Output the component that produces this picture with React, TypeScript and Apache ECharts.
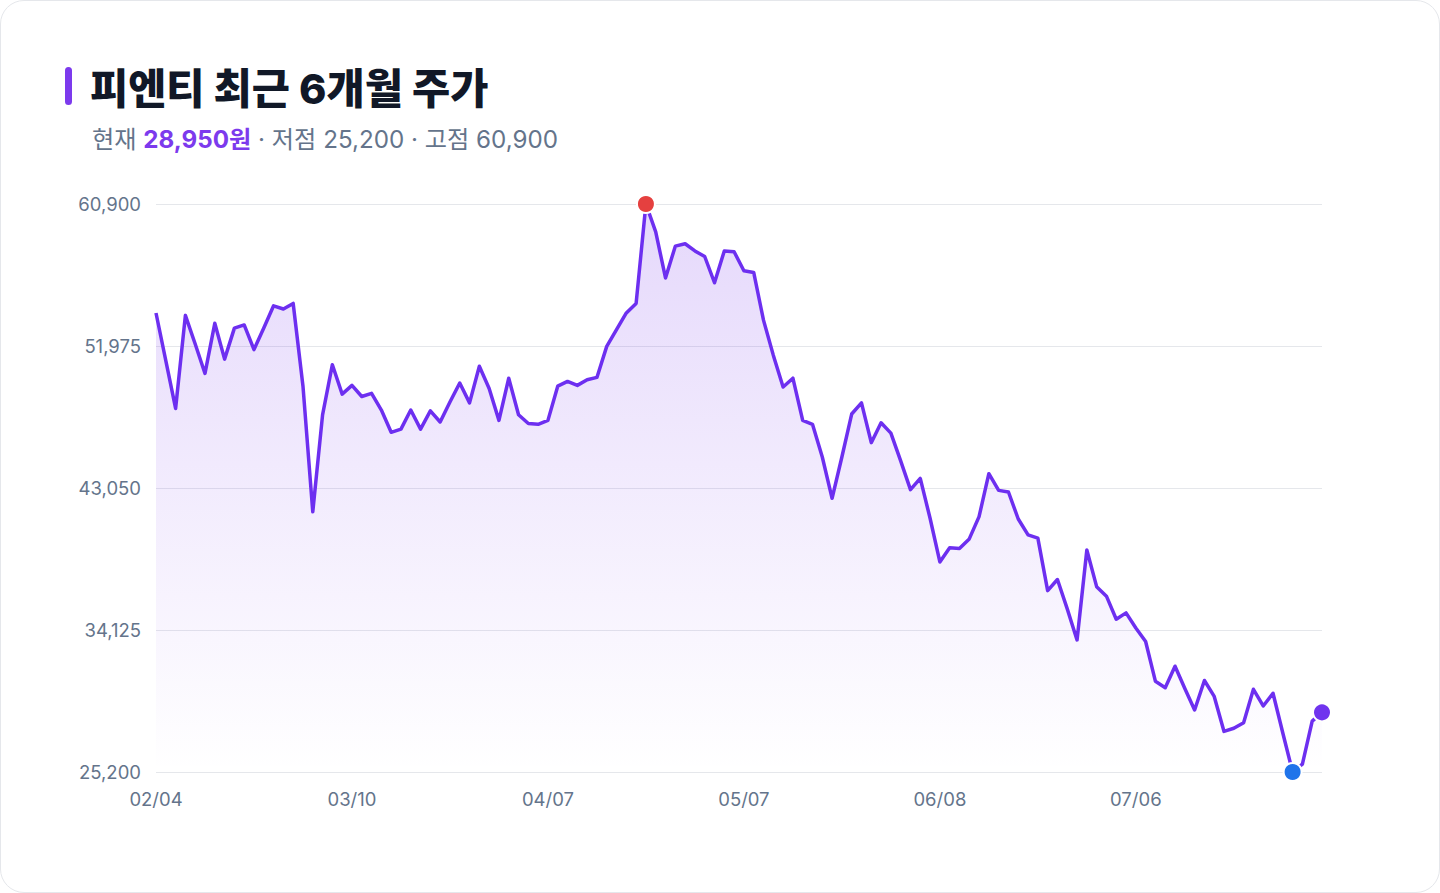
import React, { useEffect, useRef } from 'react';
import * as echarts from 'echarts';

const FONT = "Inter, 'Noto Sans CJK KR', sans-serif";

// trading days (MM/DD)
const dates: string[] = [
  '02/04', '02/05', '02/07', '02/08', '02/11', '02/12', '02/14', '02/15', '02/18', '02/19',
  '02/21', '02/22', '02/25', '02/26', '02/28', '03/01', '03/03', '03/04', '03/06', '03/07',
  '03/10', '03/11', '03/12', '03/13', '03/14', '03/17', '03/18', '03/19', '03/20', '03/21',
  '03/24', '03/25', '03/26', '03/27', '03/28', '03/31', '04/01', '04/02', '04/03', '04/04',
  '04/07', '04/08', '04/09', '04/10', '04/11', '04/14', '04/15', '04/16', '04/17', '04/18',
  '04/21', '04/22', '04/23', '04/24', '04/25', '04/28', '04/29', '04/30', '05/02', '05/06',
  '05/07', '05/08', '05/09', '05/12', '05/13', '05/14', '05/15', '05/16', '05/19', '05/20',
  '05/21', '05/22', '05/23', '05/26', '05/27', '05/28', '05/29', '05/30', '06/02', '06/04',
  '06/08', '06/09', '06/10', '06/11', '06/12', '06/13', '06/16', '06/17', '06/18', '06/19',
  '06/20', '06/23', '06/24', '06/25', '06/26', '06/27', '06/30', '07/01', '07/02', '07/03',
  '07/06', '07/07', '07/08', '07/09', '07/10', '07/11', '07/14', '07/15', '07/16', '07/17',
  '07/18', '07/21', '07/22', '07/23', '07/24', '07/25', '07/28', '07/29', '07/30', '07/31',
];

// closing price (원)
const prices: number[] = [
  54050, 51050, 48050, 53900, 52100, 50250, 53400, 51150, 53100, 53300,
  51750, 53100, 54500, 54300, 54650, 49450, 41550, 47650, 50800, 48950,
  49500, 48800, 49000, 47950, 46550, 46750, 47950, 46750, 47900, 47200,
  48450, 49650, 48400, 50700, 49300, 47300, 49950, 47650, 47100, 47050,
  47300, 49450, 49750, 49500, 49850, 50000, 51950, 53000, 54050, 54650,
  60900, 59150, 56250, 58250, 58400, 57950, 57600, 55950, 57950, 57900,
  56700, 56600, 53600, 51400, 49400, 49950, 47300, 47050, 45000, 42400,
  45000, 47700, 48400, 45900, 47150, 46500, 44750, 42950, 43650, 41150,
  38400, 39300, 39250, 39850, 41250, 43950, 42900, 42800, 41100, 40100,
  39900, 36600, 37300, 35450, 33500, 39150, 36850, 36250, 34800, 35200,
  34250, 33400, 30900, 30500, 31850, 30450, 29100, 30950, 29950, 27750,
  27950, 28300, 30400, 29350, 30150, 27650, 25200, 25700, 28400, 28950,
];

const yTicks: number[] = [25200, 34125, 43050, 51975, 60900];

const fmt = (v: number) => v.toLocaleString('en-US');

const App: React.FC = () => {
  const chartRef = useRef<HTMLDivElement | null>(null);

  useEffect(() => {
    if (!chartRef.current) return;
    const chart = echarts.init(chartRef.current, undefined, { renderer: 'svg' });

    const hi = Math.max(...prices);
    const lo = Math.min(...prices);
    const hiIdx = prices.indexOf(hi);
    const loIdx = prices.indexOf(lo);
    const lastIdx = prices.length - 1;
    const last = prices[lastIdx];

    const dot = (idx: number, color: string) => ({
      value: [idx, prices[idx]],
      itemStyle: { color, borderColor: '#ffffff', borderWidth: 2, opacity: 1 },
    });

    chart.setOption({
      animation: false,
      textStyle: { fontFamily: FONT },
      title: [
        {
          text: '피엔티 최근 6개월 주가',
          left: 90,
          top: 65,
          padding: 0,
          textStyle: {
            fontFamily: FONT,
            fontSize: 41.5,
            fontWeight: 800,
            color: '#111827',
            lineHeight: 48,
          },
        },
        {
          text: `{a|현재 }{b|${fmt(last)}원}{a| · 저점 ${fmt(lo)} · 고점 ${fmt(hi)}}`,
          left: 92,
          top: 124,
          padding: 0,
          textStyle: {
            rich: {
              a: {
                fontFamily: FONT,
                fontSize: 24.2,
                fontWeight: 400,
                color: '#64748b',
                lineHeight: 30,
              },
              b: {
                fontFamily: FONT,
                fontSize: 24.2,
                fontWeight: 700,
                color: '#7c3aed',
                lineHeight: 30,
              },
            },
          },
        },
      ],
      graphic: [
        {
          type: 'rect',
          shape: { x: 65, y: 67, width: 7, height: 38, r: 3.5 },
          style: { fill: '#7c3aed' },
        },
      ],
      grid: { left: 156, top: 204, width: 1166, height: 568 },
      xAxis: {
        type: 'category',
        data: dates,
        boundaryGap: false,
        axisLine: { show: false },
        axisTick: { show: false },
        axisLabel: {
          interval: 19,
          color: '#64748b',
          fontSize: 18.5,
          margin: 18,
          fontFamily: FONT,
        },
        splitLine: { show: false },
      },
      yAxis: {
        type: 'value',
        min: yTicks[0],
        max: yTicks[yTicks.length - 1],
        interval: yTicks[1] - yTicks[0],
        axisLine: { show: false },
        axisTick: { show: false },
        axisLabel: {
          color: '#64748b',
          fontSize: 18.5,
          margin: 15,
          fontFamily: FONT,
          formatter: (v: number) => fmt(v),
        },
        splitLine: { lineStyle: { color: '#e5e7eb', width: 1 } },
      },
      series: [
        {
          type: 'line',
          data: prices,
          showSymbol: false,
          lineStyle: { color: '#6d2ff0', width: 3.5, join: 'round' },
          areaStyle: {
            color: new echarts.graphic.LinearGradient(0, 0, 0, 1, [
              { offset: 0, color: 'rgba(124, 58, 237, 0.28)' },
              { offset: 1, color: 'rgba(124, 58, 237, 0.0)' },
            ]),
          },
          z: 2,
        },
        {
          type: 'scatter',
          symbolSize: 18,
          z: 5,
          emphasis: { disabled: true },
          data: [dot(hiIdx, '#e5403f'), dot(loIdx, '#1f74ea'), dot(lastIdx, '#7034ee')],
        },
      ],
    });

    const resizeHandler = () => chart.resize();
    window.addEventListener('resize', resizeHandler);
    return () => {
      window.removeEventListener('resize', resizeHandler);
      chart.dispose();
    };
  }, []);

  return (
    <div style={{ position: 'fixed', left: 0, top: 0, width: 1440, height: 893, background: '#ffffff' }}>
      <div
        style={{
          position: 'absolute',
          inset: 0,
          border: '1px solid #e5e7eb',
          borderRadius: 24,
          boxSizing: 'border-box',
        }}
      />
      <div ref={chartRef} style={{ position: 'absolute', left: 0, top: 0, width: 1440, height: 893 }} />
    </div>
  );
};

export default App;
